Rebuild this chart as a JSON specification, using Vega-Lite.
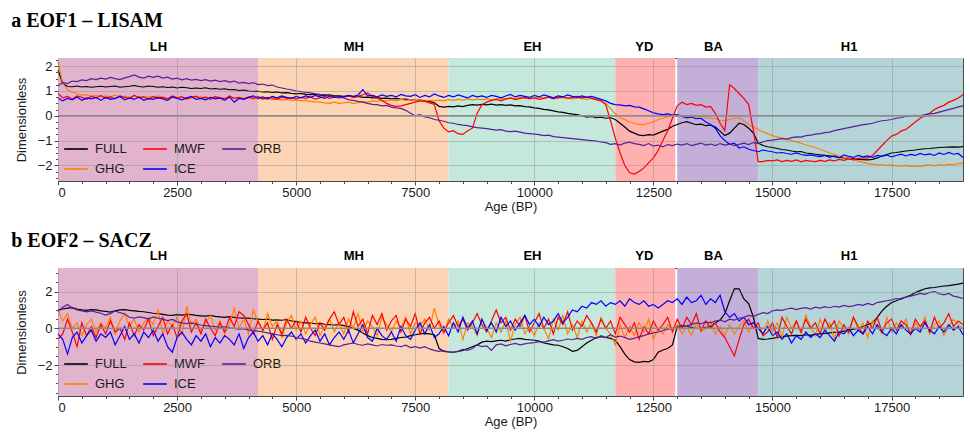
{
"$schema": "https://vega.github.io/schema/vega-lite/v6.json",
"padding": {"left": 10, "top": 10, "right": 4, "bottom": 4},
"background": "white",
"datasets": {
"periods": [{"p":"LH","s":0,"e":4200},{"p":"MH","s":4200,"e":8200},{"p":"EH","s":8200,"e":11700},{"p":"YD","s":11700,"e":12960},{"p":"BA","s":13000,"e":14700},{"p":"H1","s":14700,"e":19000}],
"zero": [{"z":0,"x0":0,"x1":19000}],
"a": [
{"t":0,"FULL":1.85,"GHG":2.2,"MWF":0.9,"ICE":0.72,"ORB":1.2},
{"t":100,"FULL":1.3,"GHG":1.3,"MWF":0.72,"ICE":0.6,"ORB":1.35},
{"t":200,"FULL":1.18,"GHG":1.05,"MWF":0.78,"ICE":0.7,"ORB":1.3},
{"t":300,"FULL":1.17,"GHG":0.95,"MWF":0.68,"ICE":0.64,"ORB":1.4},
{"t":400,"FULL":1.2,"GHG":0.9,"MWF":0.8,"ICE":0.76,"ORB":1.38},
{"t":500,"FULL":1.16,"GHG":0.82,"MWF":0.74,"ICE":0.62,"ORB":1.45},
{"t":600,"FULL":1.18,"GHG":0.85,"MWF":0.66,"ICE":0.72,"ORB":1.42},
{"t":700,"FULL":1.15,"GHG":0.78,"MWF":0.79,"ICE":0.68,"ORB":1.5},
{"t":800,"FULL":1.17,"GHG":0.82,"MWF":0.72,"ICE":0.74,"ORB":1.46},
{"t":900,"FULL":1.19,"GHG":0.76,"MWF":0.82,"ICE":0.62,"ORB":1.52},
{"t":1000,"FULL":1.16,"GHG":0.8,"MWF":0.7,"ICE":0.75,"ORB":1.48},
{"t":1100,"FULL":1.18,"GHG":0.77,"MWF":0.76,"ICE":0.66,"ORB":1.55},
{"t":1200,"FULL":1.2,"GHG":0.83,"MWF":0.68,"ICE":0.7,"ORB":1.5},
{"t":1300,"FULL":1.15,"GHG":0.75,"MWF":0.8,"ICE":0.78,"ORB":1.46},
{"t":1400,"FULL":1.17,"GHG":0.79,"MWF":0.74,"ICE":0.64,"ORB":1.53},
{"t":1500,"FULL":1.19,"GHG":0.74,"MWF":0.69,"ICE":0.72,"ORB":1.58},
{"t":1600,"FULL":1.22,"GHG":0.8,"MWF":0.83,"ICE":0.66,"ORB":1.65},
{"t":1700,"FULL":1.18,"GHG":0.76,"MWF":0.72,"ICE":0.76,"ORB":1.56},
{"t":1800,"FULL":1.16,"GHG":0.72,"MWF":0.77,"ICE":0.62,"ORB":1.52},
{"t":1900,"FULL":1.2,"GHG":0.78,"MWF":0.66,"ICE":0.7,"ORB":1.6},
{"t":2000,"FULL":1.18,"GHG":0.75,"MWF":0.78,"ICE":0.66,"ORB":1.55},
{"t":2100,"FULL":1.15,"GHG":0.8,"MWF":0.7,"ICE":0.74,"ORB":1.6},
{"t":2200,"FULL":1.17,"GHG":0.74,"MWF":0.75,"ICE":0.68,"ORB":1.52},
{"t":2300,"FULL":1.14,"GHG":0.7,"MWF":0.68,"ICE":0.62,"ORB":1.56},
{"t":2400,"FULL":1.16,"GHG":0.77,"MWF":0.8,"ICE":0.76,"ORB":1.48},
{"t":2500,"FULL":1.12,"GHG":0.73,"MWF":0.72,"ICE":0.7,"ORB":1.52},
{"t":2600,"FULL":1.15,"GHG":0.76,"MWF":0.76,"ICE":0.64,"ORB":1.45},
{"t":2700,"FULL":1.13,"GHG":0.71,"MWF":0.67,"ICE":0.72,"ORB":1.5},
{"t":2800,"FULL":1.1,"GHG":0.74,"MWF":0.74,"ICE":0.78,"ORB":1.44},
{"t":2900,"FULL":1.12,"GHG":0.72,"MWF":0.79,"ICE":0.66,"ORB":1.47},
{"t":3000,"FULL":1.1,"GHG":0.76,"MWF":0.7,"ICE":0.7,"ORB":1.42},
{"t":3100,"FULL":1.13,"GHG":0.7,"MWF":0.76,"ICE":0.64,"ORB":1.46},
{"t":3200,"FULL":1.08,"GHG":0.73,"MWF":0.66,"ICE":0.74,"ORB":1.4},
{"t":3300,"FULL":1.1,"GHG":0.75,"MWF":0.78,"ICE":0.68,"ORB":1.44},
{"t":3400,"FULL":1.07,"GHG":0.69,"MWF":0.72,"ICE":0.72,"ORB":1.38},
{"t":3500,"FULL":1.09,"GHG":0.72,"MWF":0.68,"ICE":0.62,"ORB":1.42},
{"t":3600,"FULL":1.05,"GHG":0.74,"MWF":0.8,"ICE":0.76,"ORB":1.36},
{"t":3700,"FULL":1.06,"GHG":0.7,"MWF":0.7,"ICE":0.55,"ORB":1.4},
{"t":3800,"FULL":1.02,"GHG":0.73,"MWF":0.74,"ICE":0.7,"ORB":1.32},
{"t":3900,"FULL":1.04,"GHG":0.71,"MWF":0.67,"ICE":0.66,"ORB":1.35},
{"t":4000,"FULL":1.0,"GHG":0.72,"MWF":0.76,"ICE":0.74,"ORB":1.3},
{"t":4100,"FULL":0.98,"GHG":0.68,"MWF":0.7,"ICE":0.8,"ORB":1.34},
{"t":4200,"FULL":0.99,"GHG":0.7,"MWF":0.78,"ICE":0.7,"ORB":1.26},
{"t":4300,"FULL":0.96,"GHG":0.66,"MWF":0.68,"ICE":0.76,"ORB":1.28},
{"t":4400,"FULL":0.97,"GHG":0.69,"MWF":0.74,"ICE":0.68,"ORB":1.22},
{"t":4500,"FULL":0.94,"GHG":0.65,"MWF":0.72,"ICE":0.78,"ORB":1.24},
{"t":4600,"FULL":0.96,"GHG":0.67,"MWF":0.66,"ICE":0.72,"ORB":1.16},
{"t":4700,"FULL":0.92,"GHG":0.63,"MWF":0.75,"ICE":0.8,"ORB":1.12},
{"t":4800,"FULL":0.93,"GHG":0.66,"MWF":0.7,"ICE":0.74,"ORB":1.08},
{"t":4900,"FULL":0.9,"GHG":0.62,"MWF":0.73,"ICE":0.7,"ORB":1.05},
{"t":5000,"FULL":0.88,"GHG":0.64,"MWF":0.68,"ICE":0.78,"ORB":1.0},
{"t":5100,"FULL":0.9,"GHG":0.6,"MWF":0.74,"ICE":0.72,"ORB":0.98},
{"t":5200,"FULL":0.86,"GHG":0.62,"MWF":0.7,"ICE":0.8,"ORB":0.94},
{"t":5300,"FULL":0.85,"GHG":0.58,"MWF":0.76,"ICE":0.74,"ORB":0.92},
{"t":5400,"FULL":0.87,"GHG":0.56,"MWF":0.67,"ICE":0.82,"ORB":0.88},
{"t":5500,"FULL":0.83,"GHG":0.55,"MWF":0.72,"ICE":0.76,"ORB":0.86},
{"t":5600,"FULL":0.82,"GHG":0.52,"MWF":0.78,"ICE":0.7,"ORB":0.85},
{"t":5700,"FULL":0.84,"GHG":0.5,"MWF":0.7,"ICE":0.8,"ORB":0.8},
{"t":5800,"FULL":0.8,"GHG":0.55,"MWF":0.75,"ICE":0.74,"ORB":0.78},
{"t":5900,"FULL":0.8,"GHG":0.5,"MWF":0.72,"ICE":0.78,"ORB":0.74},
{"t":6000,"FULL":0.78,"GHG":0.52,"MWF":0.76,"ICE":0.76,"ORB":0.72},
{"t":6100,"FULL":0.8,"GHG":0.55,"MWF":0.8,"ICE":0.82,"ORB":0.65},
{"t":6200,"FULL":0.76,"GHG":0.5,"MWF":0.74,"ICE":0.78,"ORB":0.62},
{"t":6300,"FULL":0.78,"GHG":0.53,"MWF":0.78,"ICE":0.84,"ORB":0.58},
{"t":6400,"FULL":0.74,"GHG":0.57,"MWF":0.85,"ICE":1.05,"ORB":0.55},
{"t":6500,"FULL":0.75,"GHG":0.55,"MWF":0.92,"ICE":0.8,"ORB":0.5},
{"t":6600,"FULL":0.72,"GHG":0.6,"MWF":0.78,"ICE":0.82,"ORB":0.46},
{"t":6700,"FULL":0.73,"GHG":0.58,"MWF":0.72,"ICE":0.76,"ORB":0.45},
{"t":6800,"FULL":0.7,"GHG":0.62,"MWF":0.62,"ICE":0.84,"ORB":0.4},
{"t":6900,"FULL":0.71,"GHG":0.6,"MWF":0.5,"ICE":0.78,"ORB":0.42},
{"t":7000,"FULL":0.68,"GHG":0.64,"MWF":0.42,"ICE":0.82,"ORB":0.35},
{"t":7100,"FULL":0.7,"GHG":0.6,"MWF":0.38,"ICE":0.76,"ORB":0.32},
{"t":7200,"FULL":0.66,"GHG":0.66,"MWF":0.4,"ICE":0.86,"ORB":0.3},
{"t":7300,"FULL":0.67,"GHG":0.62,"MWF":0.45,"ICE":0.8,"ORB":0.22},
{"t":7400,"FULL":0.64,"GHG":0.65,"MWF":0.5,"ICE":0.78,"ORB":0.1},
{"t":7500,"FULL":0.62,"GHG":0.6,"MWF":0.55,"ICE":0.85,"ORB":0.0},
{"t":7600,"FULL":0.63,"GHG":0.63,"MWF":0.6,"ICE":0.74,"ORB":0.05},
{"t":7700,"FULL":0.6,"GHG":0.58,"MWF":0.58,"ICE":0.82,"ORB":-0.05},
{"t":7800,"FULL":0.58,"GHG":0.62,"MWF":0.52,"ICE":0.76,"ORB":-0.08},
{"t":7900,"FULL":0.52,"GHG":0.6,"MWF":0.46,"ICE":0.88,"ORB":-0.15},
{"t":8000,"FULL":0.38,"GHG":0.63,"MWF":-0.2,"ICE":0.8,"ORB":-0.18},
{"t":8100,"FULL":0.35,"GHG":0.6,"MWF":-0.5,"ICE":0.74,"ORB":-0.22},
{"t":8200,"FULL":0.38,"GHG":0.65,"MWF":-0.65,"ICE":0.82,"ORB":-0.28},
{"t":8300,"FULL":0.36,"GHG":0.62,"MWF":-0.6,"ICE":0.76,"ORB":-0.3},
{"t":8400,"FULL":0.4,"GHG":0.66,"MWF":-0.72,"ICE":0.84,"ORB":-0.35},
{"t":8500,"FULL":0.37,"GHG":0.63,"MWF":-0.75,"ICE":0.78,"ORB":-0.38},
{"t":8600,"FULL":0.42,"GHG":0.68,"MWF":-0.6,"ICE":0.72,"ORB":-0.4},
{"t":8700,"FULL":0.45,"GHG":0.64,"MWF":-0.5,"ICE":0.82,"ORB":-0.45},
{"t":8800,"FULL":0.43,"GHG":0.67,"MWF":0.1,"ICE":0.76,"ORB":-0.48},
{"t":8900,"FULL":0.46,"GHG":0.65,"MWF":0.45,"ICE":0.8,"ORB":-0.5},
{"t":9000,"FULL":0.44,"GHG":0.68,"MWF":0.55,"ICE":0.74,"ORB":-0.52},
{"t":9100,"FULL":0.47,"GHG":0.64,"MWF":0.62,"ICE":0.82,"ORB":-0.55},
{"t":9200,"FULL":0.43,"GHG":0.67,"MWF":0.66,"ICE":0.78,"ORB":-0.58},
{"t":9300,"FULL":0.45,"GHG":0.7,"MWF":0.6,"ICE":0.72,"ORB":-0.56},
{"t":9400,"FULL":0.42,"GHG":0.66,"MWF":0.68,"ICE":0.8,"ORB":-0.62},
{"t":9500,"FULL":0.44,"GHG":0.72,"MWF":0.72,"ICE":0.86,"ORB":-0.64},
{"t":9600,"FULL":0.4,"GHG":0.69,"MWF":0.65,"ICE":0.76,"ORB":-0.62},
{"t":9700,"FULL":0.41,"GHG":0.74,"MWF":0.7,"ICE":0.82,"ORB":-0.66},
{"t":9800,"FULL":0.37,"GHG":0.7,"MWF":0.74,"ICE":0.78,"ORB":-0.7},
{"t":9900,"FULL":0.36,"GHG":0.73,"MWF":0.68,"ICE":0.74,"ORB":-0.72},
{"t":10000,"FULL":0.32,"GHG":0.71,"MWF":0.72,"ICE":0.82,"ORB":-0.74},
{"t":10100,"FULL":0.3,"GHG":0.75,"MWF":0.66,"ICE":0.76,"ORB":-0.76},
{"t":10200,"FULL":0.26,"GHG":0.72,"MWF":0.7,"ICE":0.84,"ORB":-0.8},
{"t":10300,"FULL":0.24,"GHG":0.76,"MWF":0.75,"ICE":0.78,"ORB":-0.78},
{"t":10400,"FULL":0.2,"GHG":0.73,"MWF":0.68,"ICE":0.72,"ORB":-0.84},
{"t":10500,"FULL":0.16,"GHG":0.7,"MWF":0.73,"ICE":0.8,"ORB":-0.86},
{"t":10600,"FULL":0.14,"GHG":0.74,"MWF":0.76,"ICE":0.76,"ORB":-0.88},
{"t":10700,"FULL":0.1,"GHG":0.71,"MWF":0.7,"ICE":0.84,"ORB":-0.9},
{"t":10800,"FULL":0.07,"GHG":0.68,"MWF":0.74,"ICE":0.78,"ORB":-0.92},
{"t":10900,"FULL":0.05,"GHG":0.72,"MWF":0.78,"ICE":0.74,"ORB":-0.94},
{"t":11000,"FULL":0.0,"GHG":0.69,"MWF":0.72,"ICE":0.8,"ORB":-0.96},
{"t":11100,"FULL":-0.05,"GHG":0.66,"MWF":0.76,"ICE":0.74,"ORB":-0.98},
{"t":11200,"FULL":-0.03,"GHG":0.7,"MWF":0.7,"ICE":0.78,"ORB":-1.0},
{"t":11300,"FULL":-0.08,"GHG":0.65,"MWF":0.65,"ICE":0.72,"ORB":-1.02},
{"t":11400,"FULL":-0.06,"GHG":0.6,"MWF":0.6,"ICE":0.66,"ORB":-1.05},
{"t":11500,"FULL":-0.1,"GHG":0.5,"MWF":0.45,"ICE":0.6,"ORB":-1.08},
{"t":11600,"FULL":-0.08,"GHG":0.3,"MWF":-0.2,"ICE":0.5,"ORB":-1.15},
{"t":11700,"FULL":-0.15,"GHG":0.08,"MWF":-0.9,"ICE":0.45,"ORB":-1.12},
{"t":11800,"FULL":-0.3,"GHG":-0.08,"MWF":-1.5,"ICE":0.44,"ORB":-1.18},
{"t":11900,"FULL":-0.45,"GHG":-0.15,"MWF":-2.0,"ICE":0.4,"ORB":-1.1},
{"t":12000,"FULL":-0.62,"GHG":-0.25,"MWF":-2.3,"ICE":0.42,"ORB":-1.06},
{"t":12100,"FULL":-0.7,"GHG":-0.3,"MWF":-2.35,"ICE":0.36,"ORB":-1.12},
{"t":12200,"FULL":-0.78,"GHG":-0.35,"MWF":-2.25,"ICE":0.35,"ORB":-1.15},
{"t":12300,"FULL":-0.8,"GHG":-0.36,"MWF":-2.1,"ICE":0.28,"ORB":-1.2},
{"t":12400,"FULL":-0.76,"GHG":-0.3,"MWF":-1.9,"ICE":0.2,"ORB":-1.12},
{"t":12500,"FULL":-0.78,"GHG":-0.25,"MWF":-1.7,"ICE":0.12,"ORB":-1.22},
{"t":12600,"FULL":-0.7,"GHG":-0.15,"MWF":-1.4,"ICE":0.08,"ORB":-1.18},
{"t":12700,"FULL":-0.62,"GHG":-0.1,"MWF":-1.0,"ICE":0.05,"ORB":-1.25},
{"t":12800,"FULL":-0.55,"GHG":-0.05,"MWF":-0.6,"ICE":0.08,"ORB":-1.16},
{"t":12900,"FULL":-0.42,"GHG":0.0,"MWF":-0.1,"ICE":0.03,"ORB":-1.2},
{"t":13000,"FULL":-0.35,"GHG":0.0,"MWF":0.4,"ICE":0.05,"ORB":-1.14},
{"t":13100,"FULL":-0.28,"GHG":0.02,"MWF":0.55,"ICE":-0.02,"ORB":-1.18},
{"t":13200,"FULL":-0.24,"GHG":-0.02,"MWF":0.45,"ICE":-0.08,"ORB":-1.12},
{"t":13300,"FULL":-0.3,"GHG":0.0,"MWF":0.5,"ICE":-0.05,"ORB":-1.2},
{"t":13400,"FULL":-0.36,"GHG":-0.05,"MWF":0.42,"ICE":-0.12,"ORB":-1.15},
{"t":13500,"FULL":-0.34,"GHG":-0.03,"MWF":0.45,"ICE":-0.1,"ORB":-1.1},
{"t":13600,"FULL":-0.4,"GHG":-0.08,"MWF":0.35,"ICE":-0.25,"ORB":-1.18},
{"t":13700,"FULL":-0.38,"GHG":-0.1,"MWF":0.38,"ICE":-0.35,"ORB":-1.14},
{"t":13800,"FULL":-0.45,"GHG":-0.12,"MWF":0.1,"ICE":-0.5,"ORB":-1.2},
{"t":13900,"FULL":-0.62,"GHG":-0.18,"MWF":-0.3,"ICE":-0.8,"ORB":-1.12},
{"t":14000,"FULL":-0.8,"GHG":-0.2,"MWF":-0.6,"ICE":-1.0,"ORB":-1.18},
{"t":14100,"FULL":-0.7,"GHG":-0.15,"MWF":1.25,"ICE":-1.15,"ORB":-1.14},
{"t":14200,"FULL":-0.5,"GHG":-0.1,"MWF":1.1,"ICE":-1.1,"ORB":-1.2},
{"t":14300,"FULL":-0.3,"GHG":-0.08,"MWF":0.9,"ICE":-1.3,"ORB":-1.15},
{"t":14400,"FULL":-0.35,"GHG":-0.2,"MWF":0.7,"ICE":-1.25,"ORB":-1.1},
{"t":14500,"FULL":-0.5,"GHG":-0.35,"MWF":0.45,"ICE":-1.35,"ORB":-1.16},
{"t":14600,"FULL":-0.7,"GHG":-0.45,"MWF":-0.6,"ICE":-1.4,"ORB":-1.08},
{"t":14700,"FULL":-1.1,"GHG":-0.55,"MWF":-1.85,"ICE":-1.45,"ORB":-1.12},
{"t":14800,"FULL":-1.2,"GHG":-0.65,"MWF":-1.85,"ICE":-1.38,"ORB":-1.05},
{"t":14900,"FULL":-1.25,"GHG":-0.72,"MWF":-1.8,"ICE":-1.42,"ORB":-1.0},
{"t":15000,"FULL":-1.28,"GHG":-0.8,"MWF":-1.82,"ICE":-1.45,"ORB":-0.98},
{"t":15100,"FULL":-1.32,"GHG":-0.85,"MWF":-1.78,"ICE":-1.5,"ORB":-0.95},
{"t":15200,"FULL":-1.36,"GHG":-0.9,"MWF":-1.85,"ICE":-1.48,"ORB":-0.92},
{"t":15300,"FULL":-1.38,"GHG":-0.95,"MWF":-1.8,"ICE":-1.52,"ORB":-0.94},
{"t":15400,"FULL":-1.42,"GHG":-1.0,"MWF":-1.84,"ICE":-1.55,"ORB":-0.88},
{"t":15500,"FULL":-1.45,"GHG":-1.05,"MWF":-1.78,"ICE":-1.5,"ORB":-0.85},
{"t":15600,"FULL":-1.44,"GHG":-1.1,"MWF":-1.86,"ICE":-1.56,"ORB":-0.86},
{"t":15700,"FULL":-1.5,"GHG":-1.18,"MWF":-1.8,"ICE":-1.6,"ORB":-0.8},
{"t":15800,"FULL":-1.52,"GHG":-1.22,"MWF":-1.83,"ICE":-1.58,"ORB":-0.78},
{"t":15900,"FULL":-1.55,"GHG":-1.28,"MWF":-1.85,"ICE":-1.62,"ORB":-0.74},
{"t":16000,"FULL":-1.58,"GHG":-1.35,"MWF":-1.8,"ICE":-1.65,"ORB":-0.72},
{"t":16100,"FULL":-1.6,"GHG":-1.42,"MWF":-1.84,"ICE":-1.6,"ORB":-0.68},
{"t":16200,"FULL":-1.62,"GHG":-1.5,"MWF":-1.78,"ICE":-1.68,"ORB":-0.66},
{"t":16300,"FULL":-1.65,"GHG":-1.55,"MWF":-1.82,"ICE":-1.62,"ORB":-0.6},
{"t":16400,"FULL":-1.68,"GHG":-1.62,"MWF":-1.76,"ICE":-1.7,"ORB":-0.56},
{"t":16500,"FULL":-1.7,"GHG":-1.68,"MWF":-1.8,"ICE":-1.58,"ORB":-0.52},
{"t":16600,"FULL":-1.72,"GHG":-1.72,"MWF":-1.74,"ICE":-1.64,"ORB":-0.48},
{"t":16700,"FULL":-1.74,"GHG":-1.78,"MWF":-1.78,"ICE":-1.68,"ORB":-0.44},
{"t":16800,"FULL":-1.76,"GHG":-1.83,"MWF":-1.72,"ICE":-1.6,"ORB":-0.4},
{"t":16900,"FULL":-1.77,"GHG":-1.88,"MWF":-1.7,"ICE":-1.66,"ORB":-0.36},
{"t":17000,"FULL":-1.78,"GHG":-1.92,"MWF":-1.7,"ICE":-1.62,"ORB":-0.34},
{"t":17100,"FULL":-1.76,"GHG":-1.95,"MWF":-1.6,"ICE":-1.68,"ORB":-0.3},
{"t":17200,"FULL":-1.7,"GHG":-1.97,"MWF":-1.4,"ICE":-1.6,"ORB":-0.24},
{"t":17300,"FULL":-1.62,"GHG":-1.98,"MWF":-1.2,"ICE":-1.64,"ORB":-0.2},
{"t":17400,"FULL":-1.56,"GHG":-2.0,"MWF":-1.0,"ICE":-1.58,"ORB":-0.18},
{"t":17500,"FULL":-1.5,"GHG":-1.98,"MWF":-0.82,"ICE":-1.66,"ORB":-0.15},
{"t":17600,"FULL":-1.48,"GHG":-2.02,"MWF":-0.75,"ICE":-1.6,"ORB":-0.1},
{"t":17700,"FULL":-1.45,"GHG":-2.03,"MWF":-0.62,"ICE":-1.55,"ORB":-0.08},
{"t":17800,"FULL":-1.42,"GHG":-2.0,"MWF":-0.55,"ICE":-1.62,"ORB":-0.02},
{"t":17900,"FULL":-1.4,"GHG":-2.04,"MWF":-0.4,"ICE":-1.56,"ORB":0.0},
{"t":18000,"FULL":-1.38,"GHG":-2.02,"MWF":-0.25,"ICE":-1.6,"ORB":0.02},
{"t":18100,"FULL":-1.35,"GHG":-2.05,"MWF":-0.1,"ICE":-1.52,"ORB":0.0},
{"t":18200,"FULL":-1.33,"GHG":-2.0,"MWF":0.0,"ICE":-1.58,"ORB":0.05},
{"t":18300,"FULL":-1.32,"GHG":-1.98,"MWF":0.1,"ICE":-1.54,"ORB":0.08},
{"t":18400,"FULL":-1.3,"GHG":-2.02,"MWF":0.25,"ICE":-1.6,"ORB":0.1},
{"t":18500,"FULL":-1.28,"GHG":-1.97,"MWF":0.35,"ICE":-1.5,"ORB":0.15},
{"t":18600,"FULL":-1.27,"GHG":-2.0,"MWF":0.42,"ICE":-1.56,"ORB":0.2},
{"t":18700,"FULL":-1.26,"GHG":-1.95,"MWF":0.55,"ICE":-1.48,"ORB":0.25},
{"t":18800,"FULL":-1.25,"GHG":-1.98,"MWF":0.62,"ICE":-1.55,"ORB":0.3},
{"t":18900,"FULL":-1.26,"GHG":-1.92,"MWF":0.72,"ICE":-1.52,"ORB":0.36},
{"t":19000,"FULL":-1.24,"GHG":-1.9,"MWF":0.85,"ICE":-1.68,"ORB":0.4}
],
"b": [
{"t":0,"FULL":1.0,"GHG":1.0,"MWF":-0.6,"ICE":-0.3,"ORB":0.9},
{"t":100,"FULL":1.05,"GHG":0.4,"MWF":-0.3,"ICE":-0.6,"ORB":1.15},
{"t":200,"FULL":1.1,"GHG":0.8,"MWF":0.5,"ICE":-1.4,"ORB":1.3},
{"t":300,"FULL":1.12,"GHG":0.0,"MWF":-0.2,"ICE":-0.5,"ORB":1.1},
{"t":400,"FULL":1.05,"GHG":0.3,"MWF":-1.0,"ICE":-0.2,"ORB":1.0},
{"t":500,"FULL":1.0,"GHG":-0.4,"MWF":0.3,"ICE":-0.8,"ORB":0.95},
{"t":600,"FULL":0.98,"GHG":0.2,"MWF":-0.4,"ICE":-0.4,"ORB":0.9},
{"t":700,"FULL":1.02,"GHG":0.5,"MWF":0.1,"ICE":-0.1,"ORB":0.95},
{"t":800,"FULL":1.0,"GHG":-0.2,"MWF":-0.5,"ICE":-0.7,"ORB":0.88},
{"t":900,"FULL":0.95,"GHG":0.3,"MWF":0.2,"ICE":-0.3,"ORB":0.82},
{"t":1000,"FULL":0.92,"GHG":0.0,"MWF":-0.3,"ICE":-0.5,"ORB":0.72},
{"t":1100,"FULL":0.88,"GHG":0.6,"MWF":0.4,"ICE":-0.2,"ORB":0.8},
{"t":1200,"FULL":0.95,"GHG":-0.3,"MWF":-0.2,"ICE":-0.9,"ORB":0.95},
{"t":1300,"FULL":1.0,"GHG":0.4,"MWF":0.0,"ICE":-0.4,"ORB":0.85},
{"t":1400,"FULL":1.02,"GHG":0.8,"MWF":-0.6,"ICE":0.1,"ORB":0.78},
{"t":1500,"FULL":0.98,"GHG":0.1,"MWF":0.3,"ICE":-0.6,"ORB":0.6},
{"t":1600,"FULL":0.95,"GHG":0.5,"MWF":-0.4,"ICE":-0.3,"ORB":0.55},
{"t":1700,"FULL":0.92,"GHG":-0.2,"MWF":0.2,"ICE":-0.8,"ORB":0.62},
{"t":1800,"FULL":0.9,"GHG":0.3,"MWF":-0.1,"ICE":-0.2,"ORB":0.58},
{"t":1900,"FULL":0.86,"GHG":0.6,"MWF":0.5,"ICE":-0.5,"ORB":0.5},
{"t":2000,"FULL":0.82,"GHG":0.2,"MWF":-0.4,"ICE":-0.1,"ORB":0.62},
{"t":2100,"FULL":0.8,"GHG":1.0,"MWF":0.1,"ICE":-0.7,"ORB":0.55},
{"t":2200,"FULL":0.76,"GHG":-0.3,"MWF":0.6,"ICE":-0.3,"ORB":0.5},
{"t":2300,"FULL":0.72,"GHG":0.4,"MWF":-0.3,"ICE":-1.0,"ORB":0.42},
{"t":2400,"FULL":0.7,"GHG":0.1,"MWF":0.2,"ICE":-1.3,"ORB":0.48},
{"t":2500,"FULL":0.74,"GHG":0.6,"MWF":-0.5,"ICE":-0.5,"ORB":0.35},
{"t":2600,"FULL":0.72,"GHG":-0.4,"MWF":0.4,"ICE":-0.2,"ORB":0.3},
{"t":2700,"FULL":0.76,"GHG":1.2,"MWF":0.8,"ICE":-0.6,"ORB":0.26},
{"t":2800,"FULL":0.74,"GHG":0.2,"MWF":-0.2,"ICE":-0.9,"ORB":0.3},
{"t":2900,"FULL":0.7,"GHG":0.5,"MWF":0.3,"ICE":-0.4,"ORB":0.22},
{"t":3000,"FULL":0.68,"GHG":-0.2,"MWF":-0.3,"ICE":-0.7,"ORB":0.18},
{"t":3100,"FULL":0.66,"GHG":0.3,"MWF":0.5,"ICE":-0.3,"ORB":0.15},
{"t":3200,"FULL":0.7,"GHG":0.7,"MWF":0.0,"ICE":-1.0,"ORB":0.12},
{"t":3300,"FULL":0.65,"GHG":-0.1,"MWF":-0.4,"ICE":-0.5,"ORB":0.1},
{"t":3400,"FULL":0.62,"GHG":0.4,"MWF":0.3,"ICE":-0.8,"ORB":0.05},
{"t":3500,"FULL":0.6,"GHG":-0.3,"MWF":-0.2,"ICE":-0.4,"ORB":0.08},
{"t":3600,"FULL":0.64,"GHG":0.2,"MWF":0.6,"ICE":-0.6,"ORB":0.02},
{"t":3700,"FULL":0.6,"GHG":1.1,"MWF":0.1,"ICE":-0.9,"ORB":0.0},
{"t":3800,"FULL":0.56,"GHG":0.0,"MWF":0.9,"ICE":-0.3,"ORB":-0.05},
{"t":3900,"FULL":0.55,"GHG":0.5,"MWF":0.7,"ICE":-1.1,"ORB":-0.02},
{"t":4000,"FULL":0.55,"GHG":-0.3,"MWF":0.2,"ICE":-0.5,"ORB":-0.08},
{"t":4100,"FULL":0.52,"GHG":1.0,"MWF":-0.3,"ICE":-0.2,"ORB":-0.12},
{"t":4200,"FULL":0.5,"GHG":0.3,"MWF":0.4,"ICE":-0.7,"ORB":-0.15},
{"t":4300,"FULL":0.48,"GHG":-0.2,"MWF":-0.1,"ICE":-0.4,"ORB":-0.2},
{"t":4400,"FULL":0.5,"GHG":0.8,"MWF":0.3,"ICE":-0.9,"ORB":-0.25},
{"t":4500,"FULL":0.45,"GHG":0.1,"MWF":-0.6,"ICE":-0.3,"ORB":-0.3},
{"t":4600,"FULL":0.46,"GHG":0.4,"MWF":0.2,"ICE":-0.6,"ORB":-0.35},
{"t":4700,"FULL":0.44,"GHG":-0.5,"MWF":-0.3,"ICE":-1.0,"ORB":-0.4},
{"t":4800,"FULL":0.48,"GHG":0.3,"MWF":0.5,"ICE":-0.5,"ORB":-0.38},
{"t":4900,"FULL":0.4,"GHG":0.7,"MWF":0.0,"ICE":-0.2,"ORB":-0.42},
{"t":5000,"FULL":0.36,"GHG":-0.1,"MWF":0.4,"ICE":-0.6,"ORB":-0.5},
{"t":5100,"FULL":0.32,"GHG":0.4,"MWF":-0.2,"ICE":-0.3,"ORB":-0.55},
{"t":5200,"FULL":0.3,"GHG":-0.3,"MWF":0.6,"ICE":-0.8,"ORB":-0.6},
{"t":5300,"FULL":0.28,"GHG":0.2,"MWF":0.0,"ICE":-0.4,"ORB":-0.7},
{"t":5400,"FULL":0.25,"GHG":0.6,"MWF":-0.4,"ICE":-0.1,"ORB":-0.75},
{"t":5500,"FULL":0.27,"GHG":-0.4,"MWF":0.3,"ICE":-0.7,"ORB":-0.8},
{"t":5600,"FULL":0.22,"GHG":0.1,"MWF":-0.1,"ICE":-0.3,"ORB":-0.85},
{"t":5700,"FULL":0.2,"GHG":0.5,"MWF":0.5,"ICE":-0.9,"ORB":-0.9},
{"t":5800,"FULL":0.18,"GHG":-0.2,"MWF":0.9,"ICE":-0.5,"ORB":-0.95},
{"t":5900,"FULL":0.2,"GHG":0.3,"MWF":0.2,"ICE":-0.2,"ORB":-1.0},
{"t":6000,"FULL":0.15,"GHG":-0.3,"MWF":0.6,"ICE":-0.6,"ORB":-0.9},
{"t":6100,"FULL":0.1,"GHG":0.5,"MWF":-0.2,"ICE":-0.1,"ORB":-0.85},
{"t":6200,"FULL":0.0,"GHG":0.0,"MWF":0.9,"ICE":-0.8,"ORB":-0.8},
{"t":6300,"FULL":-0.1,"GHG":0.8,"MWF":0.1,"ICE":-0.3,"ORB":-0.88},
{"t":6400,"FULL":-0.25,"GHG":-0.2,"MWF":0.5,"ICE":0.2,"ORB":-0.92},
{"t":6500,"FULL":-0.4,"GHG":0.4,"MWF":-0.3,"ICE":-0.5,"ORB":-0.85},
{"t":6600,"FULL":-0.5,"GHG":0.1,"MWF":0.7,"ICE":-0.7,"ORB":-0.9},
{"t":6700,"FULL":-0.55,"GHG":-0.4,"MWF":0.2,"ICE":0.0,"ORB":-0.96},
{"t":6800,"FULL":-0.6,"GHG":0.6,"MWF":0.8,"ICE":-0.4,"ORB":-0.88},
{"t":6900,"FULL":-0.62,"GHG":0.2,"MWF":-0.1,"ICE":-0.6,"ORB":-0.92},
{"t":7000,"FULL":-0.6,"GHG":-0.2,"MWF":0.4,"ICE":-0.2,"ORB":-0.9},
{"t":7100,"FULL":-0.55,"GHG":0.4,"MWF":0.7,"ICE":-0.7,"ORB":-0.96},
{"t":7200,"FULL":-0.5,"GHG":0.0,"MWF":-0.2,"ICE":0.1,"ORB":-1.0},
{"t":7300,"FULL":-0.48,"GHG":0.6,"MWF":0.5,"ICE":-0.4,"ORB":-0.92},
{"t":7400,"FULL":-0.4,"GHG":-0.3,"MWF":0.1,"ICE":-0.6,"ORB":-1.05},
{"t":7500,"FULL":-0.35,"GHG":0.3,"MWF":0.8,"ICE":-0.1,"ORB":-1.0},
{"t":7600,"FULL":-0.3,"GHG":0.1,"MWF":-0.3,"ICE":0.3,"ORB":-1.08},
{"t":7700,"FULL":-0.28,"GHG":0.5,"MWF":0.3,"ICE":-0.3,"ORB":-1.0},
{"t":7800,"FULL":-0.3,"GHG":-0.1,"MWF":0.6,"ICE":0.2,"ORB":-1.12},
{"t":7900,"FULL":-0.35,"GHG":1.1,"MWF":0.0,"ICE":-0.5,"ORB":-1.2},
{"t":8000,"FULL":-1.1,"GHG":0.2,"MWF":0.4,"ICE":-0.3,"ORB":-1.25},
{"t":8100,"FULL":-1.25,"GHG":-0.3,"MWF":-0.2,"ICE":0.1,"ORB":-1.22},
{"t":8200,"FULL":-1.28,"GHG":0.5,"MWF":0.3,"ICE":-0.4,"ORB":-1.28},
{"t":8300,"FULL":-1.3,"GHG":0.0,"MWF":0.7,"ICE":0.3,"ORB":-1.3},
{"t":8400,"FULL":-1.25,"GHG":0.4,"MWF":0.1,"ICE":-0.2,"ORB":-1.25},
{"t":8500,"FULL":-1.2,"GHG":-0.6,"MWF":0.5,"ICE":0.6,"ORB":-1.15},
{"t":8600,"FULL":-1.1,"GHG":0.3,"MWF":-0.1,"ICE":0.0,"ORB":-1.2},
{"t":8700,"FULL":-1.0,"GHG":0.1,"MWF":0.3,"ICE":0.4,"ORB":-1.1},
{"t":8800,"FULL":-0.9,"GHG":-0.4,"MWF":0.8,"ICE":-0.3,"ORB":-0.9},
{"t":8900,"FULL":-0.75,"GHG":0.5,"MWF":0.2,"ICE":0.5,"ORB":-1.0},
{"t":9000,"FULL":-0.7,"GHG":0.0,"MWF":-0.2,"ICE":-0.1,"ORB":-0.95},
{"t":9100,"FULL":-0.72,"GHG":-0.5,"MWF":0.4,"ICE":0.3,"ORB":-1.2},
{"t":9200,"FULL":-0.68,"GHG":0.3,"MWF":1.0,"ICE":-0.2,"ORB":-0.9},
{"t":9300,"FULL":-0.65,"GHG":-0.2,"MWF":0.3,"ICE":0.6,"ORB":-0.85},
{"t":9400,"FULL":-0.7,"GHG":0.4,"MWF":0.6,"ICE":0.1,"ORB":-0.95},
{"t":9500,"FULL":-0.62,"GHG":-0.7,"MWF":-0.1,"ICE":0.4,"ORB":-0.88},
{"t":9600,"FULL":-0.58,"GHG":0.2,"MWF":0.5,"ICE":-0.1,"ORB":-0.82},
{"t":9700,"FULL":-0.55,"GHG":0.6,"MWF":0.1,"ICE":0.3,"ORB":-0.9},
{"t":9800,"FULL":-0.6,"GHG":-0.3,"MWF":0.7,"ICE":0.7,"ORB":-0.85},
{"t":9900,"FULL":-0.62,"GHG":0.1,"MWF":-0.2,"ICE":0.2,"ORB":-0.8},
{"t":10000,"FULL":-0.65,"GHG":-0.4,"MWF":0.3,"ICE":0.5,"ORB":-0.78},
{"t":10100,"FULL":-0.7,"GHG":0.3,"MWF":0.8,"ICE":0.1,"ORB":-0.72},
{"t":10200,"FULL":-0.8,"GHG":0.0,"MWF":0.0,"ICE":0.6,"ORB":-0.75},
{"t":10300,"FULL":-0.85,"GHG":-0.6,"MWF":0.5,"ICE":0.2,"ORB":-0.68},
{"t":10400,"FULL":-0.9,"GHG":0.5,"MWF":-0.3,"ICE":0.4,"ORB":-0.62},
{"t":10500,"FULL":-0.92,"GHG":-0.1,"MWF":0.6,"ICE":0.8,"ORB":-0.7},
{"t":10600,"FULL":-1.0,"GHG":0.7,"MWF":0.2,"ICE":0.3,"ORB":-0.65},
{"t":10700,"FULL":-1.1,"GHG":-0.3,"MWF":0.9,"ICE":0.6,"ORB":-0.58},
{"t":10800,"FULL":-1.25,"GHG":0.2,"MWF":-0.1,"ICE":1.0,"ORB":-0.62},
{"t":10900,"FULL":-1.2,"GHG":-0.5,"MWF":0.4,"ICE":0.9,"ORB":-0.55},
{"t":11000,"FULL":-1.0,"GHG":0.4,"MWF":0.1,"ICE":1.2,"ORB":-0.6},
{"t":11100,"FULL":-0.8,"GHG":-0.2,"MWF":0.7,"ICE":1.1,"ORB":-0.5},
{"t":11200,"FULL":-0.65,"GHG":0.3,"MWF":0.3,"ICE":1.4,"ORB":-0.45},
{"t":11300,"FULL":-0.5,"GHG":-0.4,"MWF":-0.2,"ICE":1.3,"ORB":-0.55},
{"t":11400,"FULL":-0.45,"GHG":0.6,"MWF":0.5,"ICE":1.5,"ORB":-0.4},
{"t":11500,"FULL":-0.5,"GHG":0.0,"MWF":0.0,"ICE":1.2,"ORB":-0.5},
{"t":11600,"FULL":-0.55,"GHG":-0.3,"MWF":0.4,"ICE":1.4,"ORB":-0.35},
{"t":11700,"FULL":-0.65,"GHG":-0.9,"MWF":-0.3,"ICE":1.3,"ORB":-0.48},
{"t":11800,"FULL":-1.0,"GHG":0.2,"MWF":0.6,"ICE":1.5,"ORB":-0.42},
{"t":11900,"FULL":-1.4,"GHG":-0.5,"MWF":0.2,"ICE":1.2,"ORB":-0.5},
{"t":12000,"FULL":-1.7,"GHG":0.1,"MWF":-0.2,"ICE":1.6,"ORB":-0.6},
{"t":12100,"FULL":-1.82,"GHG":-0.4,"MWF":0.3,"ICE":1.4,"ORB":-0.55},
{"t":12200,"FULL":-1.85,"GHG":0.3,"MWF":-0.6,"ICE":1.3,"ORB":-0.45},
{"t":12300,"FULL":-1.8,"GHG":-0.2,"MWF":0.1,"ICE":1.5,"ORB":-0.4},
{"t":12400,"FULL":-1.82,"GHG":0.5,"MWF":-0.3,"ICE":1.2,"ORB":-0.3},
{"t":12500,"FULL":-1.7,"GHG":-0.6,"MWF":0.4,"ICE":1.3,"ORB":-0.25},
{"t":12600,"FULL":-1.3,"GHG":0.0,"MWF":-0.1,"ICE":1.1,"ORB":-0.2},
{"t":12700,"FULL":-1.18,"GHG":-0.3,"MWF":0.2,"ICE":1.3,"ORB":-0.12},
{"t":12800,"FULL":-1.1,"GHG":0.2,"MWF":0.6,"ICE":1.5,"ORB":-0.05},
{"t":12900,"FULL":-0.9,"GHG":-0.1,"MWF":-0.2,"ICE":1.4,"ORB":0.0},
{"t":13000,"FULL":0.1,"GHG":0.2,"MWF":0.5,"ICE":1.6,"ORB":0.0},
{"t":13100,"FULL":0.15,"GHG":-0.3,"MWF":0.0,"ICE":1.3,"ORB":0.05},
{"t":13200,"FULL":0.1,"GHG":0.1,"MWF":0.6,"ICE":1.7,"ORB":0.15},
{"t":13300,"FULL":0.05,"GHG":-0.4,"MWF":0.2,"ICE":1.4,"ORB":0.2},
{"t":13400,"FULL":0.0,"GHG":0.3,"MWF":0.8,"ICE":1.5,"ORB":0.3},
{"t":13500,"FULL":0.0,"GHG":-0.2,"MWF":-0.1,"ICE":1.8,"ORB":0.25},
{"t":13600,"FULL":0.05,"GHG":0.0,"MWF":0.4,"ICE":1.3,"ORB":0.35},
{"t":13700,"FULL":0.1,"GHG":0.4,"MWF":0.0,"ICE":1.6,"ORB":0.3},
{"t":13800,"FULL":0.3,"GHG":-0.3,"MWF":0.3,"ICE":1.4,"ORB":0.4},
{"t":13900,"FULL":0.45,"GHG":0.1,"MWF":-0.2,"ICE":1.8,"ORB":0.45},
{"t":14000,"FULL":0.8,"GHG":-0.4,"MWF":-0.5,"ICE":0.9,"ORB":0.35},
{"t":14100,"FULL":1.5,"GHG":0.2,"MWF":-1.0,"ICE":0.6,"ORB":0.5},
{"t":14200,"FULL":2.15,"GHG":-0.3,"MWF":-1.5,"ICE":0.8,"ORB":0.45},
{"t":14300,"FULL":2.15,"GHG":0.1,"MWF":-0.6,"ICE":0.4,"ORB":0.55},
{"t":14400,"FULL":1.6,"GHG":0.4,"MWF":0.2,"ICE":0.6,"ORB":0.6},
{"t":14500,"FULL":1.35,"GHG":-0.2,"MWF":0.5,"ICE":0.2,"ORB":0.7},
{"t":14600,"FULL":0.6,"GHG":0.3,"MWF":0.0,"ICE":0.3,"ORB":0.65},
{"t":14700,"FULL":-0.55,"GHG":0.0,"MWF":0.3,"ICE":0.0,"ORB":0.75},
{"t":14800,"FULL":-0.6,"GHG":-0.3,"MWF":-0.4,"ICE":-0.3,"ORB":0.85},
{"t":14900,"FULL":-0.58,"GHG":0.4,"MWF":-0.2,"ICE":0.1,"ORB":0.8},
{"t":15000,"FULL":-0.55,"GHG":-0.2,"MWF":0.3,"ICE":-0.4,"ORB":0.95},
{"t":15100,"FULL":-0.5,"GHG":0.3,"MWF":-0.5,"ICE":-0.2,"ORB":1.0},
{"t":15200,"FULL":-0.45,"GHG":-0.5,"MWF":0.6,"ICE":-0.6,"ORB":0.98},
{"t":15300,"FULL":-0.42,"GHG":0.6,"MWF":0.1,"ICE":-0.3,"ORB":1.05},
{"t":15400,"FULL":-0.4,"GHG":0.0,"MWF":-0.3,"ICE":-0.8,"ORB":1.1},
{"t":15500,"FULL":-0.38,"GHG":0.4,"MWF":0.4,"ICE":-0.4,"ORB":1.02},
{"t":15600,"FULL":-0.4,"GHG":-0.3,"MWF":-0.2,"ICE":-0.6,"ORB":1.08},
{"t":15700,"FULL":-0.35,"GHG":0.7,"MWF":0.5,"ICE":-0.2,"ORB":1.12},
{"t":15800,"FULL":-0.38,"GHG":0.1,"MWF":0.0,"ICE":-0.5,"ORB":1.05},
{"t":15900,"FULL":-0.32,"GHG":-0.4,"MWF":0.3,"ICE":-0.3,"ORB":1.15},
{"t":16000,"FULL":-0.3,"GHG":0.5,"MWF":-0.3,"ICE":-0.5,"ORB":1.1},
{"t":16100,"FULL":-0.28,"GHG":-0.2,"MWF":0.5,"ICE":-0.1,"ORB":1.18},
{"t":16200,"FULL":-0.25,"GHG":0.3,"MWF":0.0,"ICE":-0.4,"ORB":1.12},
{"t":16300,"FULL":-0.22,"GHG":-0.6,"MWF":0.4,"ICE":-0.7,"ORB":1.2},
{"t":16400,"FULL":-0.2,"GHG":0.4,"MWF":-0.4,"ICE":-0.2,"ORB":1.15},
{"t":16500,"FULL":-0.15,"GHG":0.0,"MWF":0.2,"ICE":-0.3,"ORB":1.25},
{"t":16600,"FULL":-0.1,"GHG":-0.3,"MWF":-0.2,"ICE":0.0,"ORB":1.18},
{"t":16700,"FULL":-0.05,"GHG":0.6,"MWF":0.6,"ICE":-0.4,"ORB":1.22},
{"t":16800,"FULL":0.0,"GHG":-0.1,"MWF":0.1,"ICE":-0.1,"ORB":1.3},
{"t":16900,"FULL":0.1,"GHG":0.3,"MWF":-0.3,"ICE":-0.3,"ORB":1.25},
{"t":17000,"FULL":0.2,"GHG":-0.5,"MWF":0.4,"ICE":0.1,"ORB":1.35},
{"t":17100,"FULL":0.3,"GHG":0.4,"MWF":0.0,"ICE":-0.3,"ORB":1.28},
{"t":17200,"FULL":0.6,"GHG":0.1,"MWF":0.6,"ICE":0.2,"ORB":1.4},
{"t":17300,"FULL":0.95,"GHG":-0.3,"MWF":-0.2,"ICE":-0.2,"ORB":1.45},
{"t":17400,"FULL":1.2,"GHG":0.6,"MWF":0.3,"ICE":-0.4,"ORB":1.5},
{"t":17500,"FULL":1.4,"GHG":-0.2,"MWF":0.5,"ICE":0.0,"ORB":1.55},
{"t":17600,"FULL":1.5,"GHG":0.3,"MWF":-0.1,"ICE":-0.3,"ORB":1.62},
{"t":17700,"FULL":1.62,"GHG":0.0,"MWF":0.4,"ICE":0.2,"ORB":1.58},
{"t":17800,"FULL":1.7,"GHG":0.5,"MWF":0.2,"ICE":-0.1,"ORB":1.7},
{"t":17900,"FULL":1.8,"GHG":-0.4,"MWF":-0.3,"ICE":-0.3,"ORB":1.75},
{"t":18000,"FULL":1.95,"GHG":0.3,"MWF":0.5,"ICE":0.0,"ORB":1.82},
{"t":18100,"FULL":2.05,"GHG":-0.1,"MWF":0.1,"ICE":-0.2,"ORB":1.9},
{"t":18200,"FULL":2.15,"GHG":0.6,"MWF":0.4,"ICE":0.3,"ORB":1.85},
{"t":18300,"FULL":2.2,"GHG":-0.3,"MWF":-0.2,"ICE":-0.1,"ORB":1.95},
{"t":18400,"FULL":2.22,"GHG":0.2,"MWF":0.6,"ICE":-0.3,"ORB":2.0},
{"t":18500,"FULL":2.26,"GHG":0.4,"MWF":0.0,"ICE":0.1,"ORB":1.88},
{"t":18600,"FULL":2.3,"GHG":-0.4,"MWF":0.3,"ICE":-0.2,"ORB":1.82},
{"t":18700,"FULL":2.32,"GHG":0.1,"MWF":0.8,"ICE":0.2,"ORB":1.9},
{"t":18800,"FULL":2.36,"GHG":0.5,"MWF":0.1,"ICE":-0.1,"ORB":1.75},
{"t":18900,"FULL":2.4,"GHG":0.2,"MWF":0.4,"ICE":0.1,"ORB":1.7},
{"t":19000,"FULL":2.46,"GHG":0.0,"MWF":0.2,"ICE":-0.35,"ORB":1.62}
]
},
"config": {
"view": {"stroke": "#4a4a4a", "strokeWidth": 1},
"axis": {"labelFont": "Liberation Sans", "titleFont": "Liberation Sans", "labelFontSize": 13, "titleFontSize": 13, "titleFontWeight": "normal", "labelColor": "#1a1a1a", "titleColor": "#1a1a1a", "tickColor": "#4a4a4a", "domain": false, "gridColor": "#888888", "gridOpacity": 0.4, "gridWidth": 1},
"legend": {"labelFont": "Liberation Sans", "labelFontSize": 13, "labelColor": "#1a1a1a"},
"title": {"font": "Liberation Serif", "fontSize": 20, "fontWeight": "bold", "color": "#000000", "anchor": "start"}
},
"spacing": 16,
"resolve": {"scale": {"color": "independent"}, "legend": {"color": "independent"}},
"vconcat": [
{
"title": {"text": "a EOF1 – LISAM", "dx": -4, "offset": 9},
"width": 905, "height": 123,
"resolve": {"axis": {"x": "independent", "y": "independent"}},
"layer": [
{"data": {"name": "periods"}, "mark": {"type": "rect"},
 "encoding": {
  "x": {"field": "s", "type": "quantitative", "scale": {"domain": [0, 19000], "nice": false, "zero": false},
   "axis": {"orient": "top", "values": [2100, 6200, 9950, 12300, 13750, 16600], "labelExpr": "datum.value==2100?'LH':datum.value==6200?'MH':datum.value==9950?'EH':datum.value==12300?'YD':datum.value==13750?'BA':'H1'", "ticks": false, "tickSize": 0, "grid": false, "title": null, "labelFontWeight": "bold", "labelColor": "#000000", "labelPadding": 5}},
  "x2": {"field": "e"},
  "fill": {"field": "p", "type": "nominal", "scale": {"domain": ["LH","MH","EH","YD","BA","H1"], "range": ["#e2b3cc","#fad4b4","#c4e8dc","#ffb1b1","#c4afd8","#b5d4d8"]}, "legend": null}
 }},
{"data": {"name": "a"}, "transform": [{"fold": ["FULL","GHG","MWF","ICE","ORB"], "as": ["series","value"]}],
 "mark": {"type": "line", "strokeWidth": 1.2},
 "encoding": {
  "x": {"field": "t", "type": "quantitative", "scale": {"domain": [0, 19000], "nice": false, "zero": false},
   "axis": {"orient": "bottom", "values": [0,2500,5000,7500,10000,12500,15000,17500], "format": "d", "title": "Age (BP)", "tickSize": 4, "labelPadding": 1, "titlePadding": 1, "grid": true, "zindex": 1}},
  "y": {"field": "value", "type": "quantitative", "scale": {"domain": [-2.63, 2.33], "nice": false, "zero": false},
   "axis": {"orient": "left", "values": [-2,-1,0,1,2], "title": "Dimensionless", "tickSize": 4, "labelPadding": 2, "titlePadding": 9, "grid": true, "zindex": 1}},
  "color": {"field": "series", "type": "nominal", "scale": {"domain": ["FULL","MWF","ORB","GHG","ICE"], "range": ["#000000","#ff0000","#5a1e9a","#ff8000","#0000ff"]},
   "legend": {"title": null, "orient": "bottom-left", "columns": 3, "direction": "horizontal", "symbolType": "stroke", "symbolSize": 560, "symbolStrokeWidth": 1.6, "offset": 5, "columnPadding": 12, "rowPadding": -6, "labelOffset": 6, "padding": 0}}
 }},
{"data": {"name": "zero"}, "mark": {"type": "rule", "color": "#8c8c8c", "strokeWidth": 1.5},
 "encoding": {
  "x": {"field": "x0", "type": "quantitative", "axis": {"orient": "bottom", "values": [500,1000,1500,2000,3000,3500,4000,4500,5500,6000,6500,7000,8000,8500,9000,9500,10500,11000,11500,12000,13000,13500,14000,14500,15500,16000,16500,17000,18000,18500], "labels": false, "grid": false, "tickSize": 2.5, "title": null}},
  "x2": {"field": "x1"},
  "y": {"field": "z", "type": "quantitative", "axis": {"orient": "left", "values": [-2.5,-2.25,-1.75,-1.5,-1.25,-0.75,-0.5,-0.25,0.25,0.5,0.75,1.25,1.5,1.75,2.25], "labels": false, "grid": false, "tickSize": 2.5, "title": null}}
 }}
]
},
{
"title": {"text": "b EOF2 – SACZ", "dx": -4, "offset": -2},
"width": 905, "height": 128,
"resolve": {"axis": {"x": "independent", "y": "independent"}},
"layer": [
{"data": {"name": "periods"}, "mark": {"type": "rect"},
 "encoding": {
  "x": {"field": "s", "type": "quantitative", "scale": {"domain": [0, 19000], "nice": false, "zero": false},
   "axis": {"orient": "top", "values": [2100, 6200, 9950, 12300, 13750, 16600], "labelExpr": "datum.value==2100?'LH':datum.value==6200?'MH':datum.value==9950?'EH':datum.value==12300?'YD':datum.value==13750?'BA':'H1'", "ticks": false, "tickSize": 0, "grid": false, "title": null, "labelFontWeight": "bold", "labelColor": "#000000", "labelPadding": 6}},
  "x2": {"field": "e"},
  "fill": {"field": "p", "type": "nominal", "scale": {"domain": ["LH","MH","EH","YD","BA","H1"], "range": ["#e2b3cc","#fad4b4","#c4e8dc","#ffb1b1","#c4afd8","#b5d4d8"]}, "legend": null}
 }},
{"data": {"name": "b"}, "transform": [{"fold": ["FULL","GHG","MWF","ICE","ORB"], "as": ["series","value"]}],
 "mark": {"type": "line", "strokeWidth": 1.2},
 "encoding": {
  "x": {"field": "t", "type": "quantitative", "scale": {"domain": [0, 19000], "nice": false, "zero": false},
   "axis": {"orient": "bottom", "values": [0,2500,5000,7500,10000,12500,15000,17500], "format": "d", "title": "Age (BP)", "tickSize": 4, "labelPadding": 1, "titlePadding": 1, "grid": true, "zindex": 1}},
  "y": {"field": "value", "type": "quantitative", "scale": {"domain": [-3.68, 3.28], "nice": false, "zero": false},
   "axis": {"orient": "left", "values": [-2,0,2], "title": "Dimensionless", "tickSize": 4, "labelPadding": 2, "titlePadding": 9, "grid": true, "zindex": 1}},
  "color": {"field": "series", "type": "nominal", "scale": {"domain": ["FULL","MWF","ORB","GHG","ICE"], "range": ["#000000","#ff0000","#5a1e9a","#ff8000","#0000ff"]},
   "legend": {"title": null, "orient": "bottom-left", "columns": 3, "direction": "horizontal", "symbolType": "stroke", "symbolSize": 560, "symbolStrokeWidth": 1.6, "offset": 5, "columnPadding": 12, "rowPadding": -6, "labelOffset": 6, "padding": 0}}
 }},
{"data": {"name": "zero"}, "mark": {"type": "rule", "color": "#8c8c8c", "strokeWidth": 1.5},
 "encoding": {
  "x": {"field": "x0", "type": "quantitative", "axis": {"orient": "bottom", "values": [500,1000,1500,2000,3000,3500,4000,4500,5500,6000,6500,7000,8000,8500,9000,9500,10500,11000,11500,12000,13000,13500,14000,14500,15500,16000,16500,17000,18000,18500], "labels": false, "grid": false, "tickSize": 2.5, "title": null}},
  "x2": {"field": "x1"},
  "y": {"field": "z", "type": "quantitative", "axis": {"orient": "left", "values": [-3.5,-3,-2.5,-1.5,-1,-0.5,0.5,1,1.5,2.5,3], "labels": false, "grid": false, "tickSize": 2.5, "title": null}}
 }}
]
}
]
}
